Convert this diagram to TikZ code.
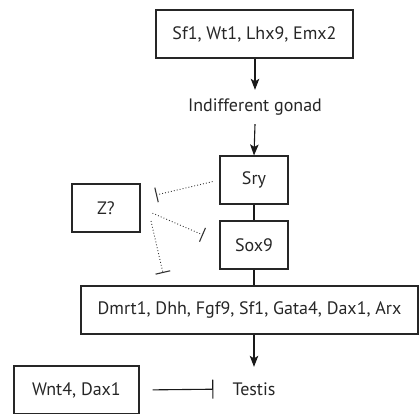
\documentclass[tikz,border=0pt]{standalone}
\usepackage{fontspec}
\setmainfont{PT Sans}
\usetikzlibrary{arrows.meta,calc}
\begin{document}
\begin{tikzpicture}[x=1pt,y=-1pt,
  font=\fontsize{18}{21}\selectfont,
  box/.style={draw=black!85, line width=1.1pt, text=black!85, inner sep=0pt, minimum height=48pt},
  lbl/.style={text=black!85, inner sep=0pt},
  arr/.style={draw=black!90, line width=1.1pt, -{Stealth[length=11pt,width=8.5pt,inset=2.5pt]}},
  ln/.style={draw=black!90, line width=1.1pt},
  inh/.style={draw=black!80, line width=0.9pt, dash pattern=on 0.9pt off 2.1pt, -{Bar[width=15pt,line width=1.1pt]}},
  inhs/.style={draw=black!90, line width=1.1pt, -{Bar[width=19pt,line width=1.1pt]}}]
\useasboundingbox (0,0) rectangle (420,413);
\clip (0,0) rectangle (420,413);
\node[box, minimum width=197pt] (top) at (254.5,34) {Sf1, Wt1, Lhx9, Emx2};
\node[lbl, minimum height=34pt] (gonad) at (255,107) {Indifferent gonad};
\node[box, minimum width=68pt] (sry) at (254,180) {Sry};
\node[box, minimum width=68pt] (sox9) at (254,245) {Sox9};
\node[box, minimum width=337pt] (big) at (249.5,310) {Dmrt1, Dhh, Fgf9, Sf1, Gata4, Dax1, Arx};
\node[lbl, minimum height=44pt] (testis) at (254,389) {Testis};
\node[box, minimum width=125pt] (wnt) at (76.5,390) {Wnt4, Dax1};
\node[box, minimum width=68pt] (z) at (106,208) {Z?};
\coordinate (zb1) at (156,195);
\coordinate (zb2) at (203,235);
\coordinate (zs3) at (151,221);
\coordinate (zb3) at (163,273);
\draw[arr] (top.south -| gonad) -- (gonad.north);
\draw[arr] (gonad.south) -- (sry.north);
\draw[ln] (sry.south) -- (sox9.south |- sox9.north);
\draw[ln] (sox9.south) -- (sox9.south |- big.north);
\draw[arr] (big.south -| sox9) -- (testis.north -| sox9);
\draw[inhs, shorten <=13pt, shorten >=19pt] (wnt.east) -- (testis.west);
\draw[inh, shorten <=7pt] (sry.west) -- (zb1);
\draw[inh, shorten <=13pt] (z.east) -- (zb2);
\draw[inh] (zs3) -- (zb3);
\end{tikzpicture}
\end{document}
